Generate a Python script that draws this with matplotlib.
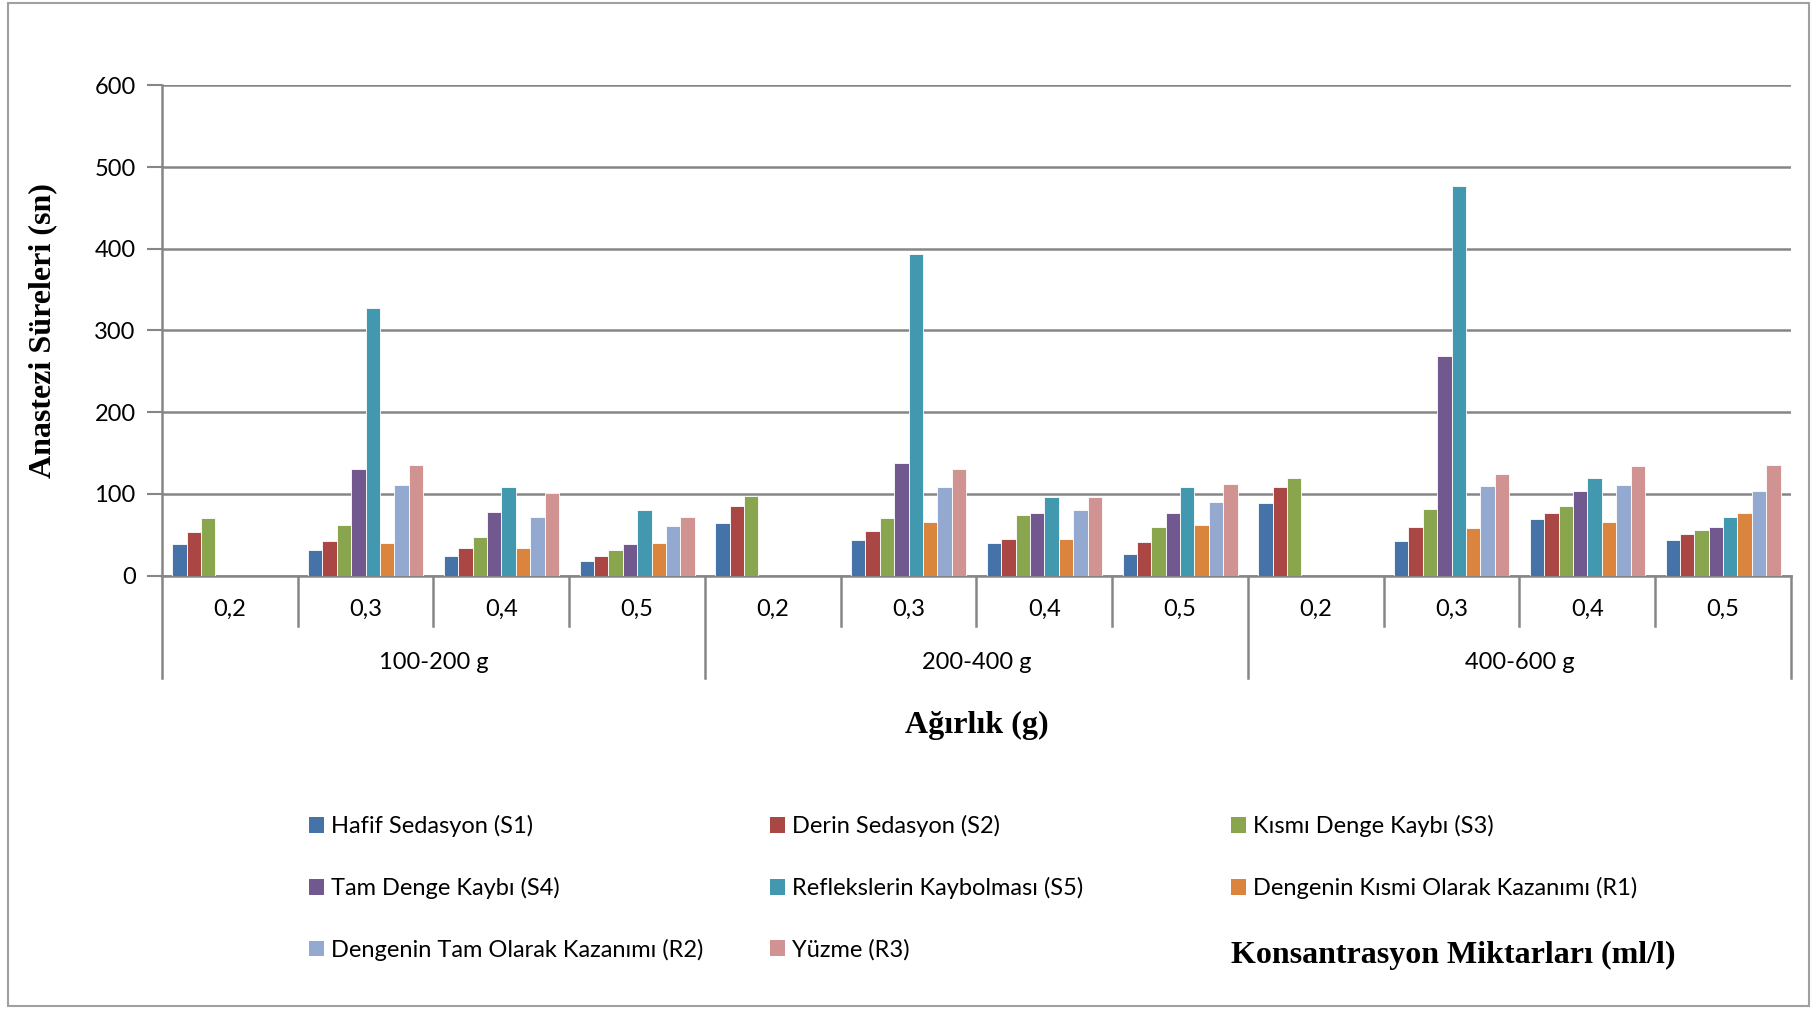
import numpy as np
import matplotlib.pyplot as plt
from matplotlib.patches import Rectangle
import matplotlib.transforms as mtransforms

nan = np.nan

# category labels (concentration) and weight groups
conc_labels = ["0,2", "0,3", "0,4", "0,5"] * 3
group_labels = ["100-200 g", "200-400 g", "400-600 g"]

series_names = [
    "Hafif Sedasyon (S1)",
    "Derin Sedasyon (S2)",
    "Kısmı Denge Kaybı (S3)",
    "Tam Denge Kaybı (S4)",
    "Reflekslerin Kaybolması (S5)",
    "Dengenin Kısmi Olarak Kazanımı (R1)",
    "Dengenin Tam Olarak Kazanımı (R2)",
    "Yüzme (R3)",
]

s1 = [39, 31, 24, 18, 64, 43, 40, 26, 89, 42, 69, 44]
s2 = [53, 42, 34, 24, 85, 54, 45, 41, 108, 60, 77, 51]
s3 = [70, 62, 47, 31, 97, 71, 74, 60, 119, 81, 85, 56]
s4 = [nan, 130, 78, 38, nan, 138, 77, 77, nan, 269, 104, 59]
s5 = [nan, 327, 108, 80, nan, 394, 96, 109, nan, 477, 120, 72]
r1 = [nan, 40, 34, 40, nan, 65, 45, 62, nan, 58, 65, 76]
r2 = [nan, 111, 72, 61, nan, 108, 80, 90, nan, 110, 111, 104]
r3 = [nan, 135, 101, 72, nan, 131, 96, 112, nan, 124, 134, 135]
all_series = [s1, s2, s3, s4, s5, r1, r2, r3]

colors = ["#4572A7", "#AA4643", "#89A54E", "#71588F",
          "#4198AF", "#DB843D", "#93A9CF", "#D19392"]

sans = ["Lato", "DejaVu Sans"]
serif = ["Liberation Serif", "DejaVu Serif"]
grid_col = "#868686"

fig = plt.figure(figsize=(18.12, 10.09), dpi=100)
ax = fig.add_axes([0.0894, 0.4296, 0.8990, 0.4857])

x = np.arange(len(conc_labels))
w = 0.106
handles = []
for j, vals in enumerate(all_series):
    b = ax.bar(x + (j - 3.5) * w, vals, w, color=colors[j],
               edgecolor="white", linewidth=0.6, zorder=3)
    handles.append(b)

ax.set_xlim(-0.5, len(conc_labels) - 0.5)
ax.set_ylim(0, 600)
ax.set_yticks(range(0, 601, 100))
ax.yaxis.grid(True, color=grid_col, linewidth=1.8, zorder=0)
ax.tick_params(axis="y", length=11, width=1.5, color=grid_col, pad=8, labelsize=17)
for t in ax.get_yticklabels():
    t.set_family(sans)
ax.set_xticks([])
for side in ["top", "right"]:
    ax.spines[side].set_visible(False)
ax.spines["left"].set_color(grid_col)
ax.spines["left"].set_linewidth(1.8)
ax.spines["bottom"].set_color(grid_col)
ax.spines["bottom"].set_linewidth(1.8)

# multi-level category axis
trans = mtransforms.blended_transform_factory(ax.transData, ax.transAxes)
for k in range(len(conc_labels) + 1):
    xb = k - 0.5
    low = -0.209 if k % 4 == 0 else -0.103
    ax.plot([xb, xb], [0, low], color=grid_col, lw=1.8, transform=trans, clip_on=False)
for k, lab in enumerate(conc_labels):
    ax.text(k, -0.070, lab, transform=trans, ha="center", va="center",
            fontsize=17, family=sans)
for g, lab in enumerate(group_labels):
    ax.text(g * 4 + 1.5, -0.177, lab, transform=trans, ha="center", va="center",
            fontsize=17, family=sans)

ax.text(-0.073, 0.5, "Anastezi Süreleri (sn)", transform=ax.transAxes, rotation=90,
        ha="center", va="center", fontsize=23, fontweight="bold", family=serif)
ax.text(0.5, -0.305, "Ağırlık (g)", transform=ax.transAxes, ha="center", va="center",
        fontsize=23, fontweight="bold", family=serif)

# legend laid out row-wise in three columns
col_x = [0.1705, 0.4249, 0.6793]
for c in range(3):
    idx = [i for i in range(len(series_names)) if i % 3 == c]
    leg = fig.legend([handles[i] for i in idx], [series_names[i] for i in idx],
                     loc="upper left", bbox_to_anchor=(col_x[c], 0.192),
                     frameon=False, prop={"family": sans, "size": 17},
                     handlelength=0.65, handleheight=0.65, handletextpad=0.3,
                     labelspacing=1.68, borderpad=0, borderaxespad=0)
    for h in leg.legend_handles:
        h.set_edgecolor("none")

fig.text(0.6795, 0.0535, "Konsantrasyon Miktarları (ml/l)", ha="left", va="center",
         fontsize=23, fontweight="bold", family=serif)

fig.patches.append(Rectangle((8 / 1812, 3 / 1009), 1801 / 1812, 1003 / 1009,
                             transform=fig.transFigure, fill=False,
                             edgecolor="#A0A0A0", linewidth=1.5))

fig.savefig("out.png", dpi=100)
